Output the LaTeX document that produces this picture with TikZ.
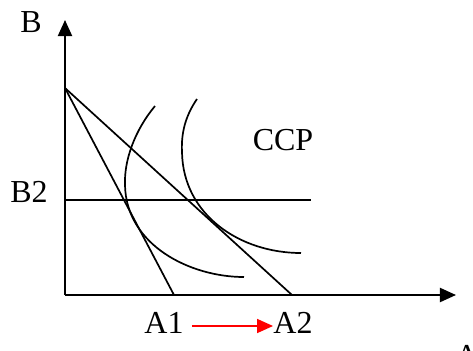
\documentclass[tikz,border=0pt]{standalone}
\usepackage{fontspec}
\setmainfont{Liberation Serif}
\usetikzlibrary{arrows.meta}
\begin{document}
\begin{tikzpicture}[x=0.5pt,y=-0.5pt,
  axis/.style={line width=1pt,-{Triangle[length=8pt,width=7pt]}},
  ln/.style={line width=0.85pt},
  lbl/.style={inner sep=0pt,anchor=base,font=\fontsize{16}{16}\selectfont},
  redarrow/.style={red,line width=0.8pt,-{Triangle[length=8pt,width=7pt]}}]
\useasboundingbox (0,0) rectangle (473,350);
\coordinate (O) at (65,295);
\coordinate (Ytip) at (65,20);
\coordinate (Xtip) at (456,295);
\coordinate (P) at (65,88);
\coordinate (I1) at (174,295);
\coordinate (I2) at (292,295);
\coordinate (H1) at (65,200);
\coordinate (H2) at (311,200);
\draw[axis] (O) -- (Ytip);
\draw[axis] (O) -- (Xtip);
\draw[ln] (P) -- (I1);
\draw[ln] (P) -- (I2);
\draw[ln] (H1) -- (H2);
\draw[ln] (155,106) .. controls (135,130) and (124,160) .. (125,185)
  .. controls (126,245) and (190,277) .. (244,277);
\draw[ln] (197,99) .. controls (186,115) and (181,132) .. (182,152)
  .. controls (183,215) and (240,253) .. (301,253);
\node[lbl] (B) at (31,32) {B};
\node[lbl] (B2) at (29,202) {B2};
\node[lbl] (CCP) at (283,150) {CCP};
\node[lbl] (A1) at (164,333) {A1};
\node[lbl] (A2) at (293,333) {A2};
\node[lbl,anchor=base west] (A) at (455,366) {A};
\coordinate (R1) at (192,326);
\draw[redarrow] (R1) -- (A2.west |- R1);
\end{tikzpicture}
\end{document}
